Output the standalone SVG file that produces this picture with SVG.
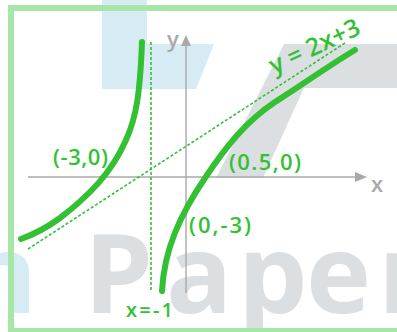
<svg xmlns="http://www.w3.org/2000/svg" width="397" height="332" viewBox="0 0 397 332">
  <style>
    .wm-blue { fill: #d6ebf3; }
    .wm-gray { fill: #dcdfe2; }
    .wm-text { font-family: "Open Sans", "Liberation Sans", sans-serif; font-weight: 700; font-size: 110px; }
    .frame { fill: none; stroke: #a6e6a6; stroke-width: 6; }
    .axis { stroke: #a9a9a9; stroke-width: 1.4; fill: none; }
    .arrow { fill: #a9a9a9; }
    .axlabel { font-family: "Open Sans", "Liberation Sans", sans-serif; font-size: 22px; fill: #a9a9a9; font-weight: 600; }
    .curve { fill: none; stroke: #33c133; stroke-width: 6; stroke-linecap: round; stroke-linejoin: round; }
    .asym { fill: none; stroke: #33c133; stroke-width: 1.6; stroke-dasharray: 3 2; }
    .lbl { font-family: "Open Sans", "Liberation Sans", sans-serif; font-weight: 600; fill: #33c133; }
  </style>
  <rect width="397" height="332" fill="#ffffff"/>
  <g id="watermark">
    <polygon class="wm-blue" points="102,0 147,0 147,44 214,44 196,89 102,89"/>
    <polygon class="wm-gray" points="284,44 397,44 397,88 304,88 263,178 216,178"/>
    <text class="wm-text wm-blue" x="-35" y="313">n</text>
    <text class="wm-text wm-gray" x="84 166 238 306 378" y="313">Paper</text>
  </g>
  <rect class="frame" x="11" y="8" width="392" height="323"/>
  <g id="axes">
    <line class="axis" x1="28" y1="177" x2="357" y2="177"/>
    <polygon class="arrow" points="355,172 367,177 355,182"/>
    <line class="axis" x1="186" y1="293" x2="186" y2="45"/>
    <polygon class="arrow" points="181,46 186,35 191,46"/>
    <text class="axlabel" x="371" y="192">x</text>
    <text class="axlabel" x="167" y="47">y</text>
  </g>
  <g id="connectors">
    <line class="asym" x1="151" y1="42" x2="151" y2="292"/>
    <line class="asym" x1="28" y1="249" x2="345" y2="43"/>
  </g>
  <g id="curve-left">
    <path class="curve" d="M142,42 C140,95 136,118 126,140 C112,172 90,195 60,218 C45,229 32,235 21,239"/>
  </g>
  <g id="curve-right">
    <path class="curve" d="M162,291 C164,250 180,215 205,178 C225,148 245,122 275,102 C300,86 330,65 355,50"/>
  </g>
  <g id="labels">
    <text class="lbl" x="53" y="165" font-size="22" textLength="55">(-3,0)</text>
    <text class="lbl" x="229" y="170" font-size="22" textLength="72">(0.5,0)</text>
    <text class="lbl" x="189" y="233" font-size="22" textLength="62">(0,-3)</text>
    <text class="lbl" x="126" y="317" font-size="20" textLength="47">x=-1</text>
    <text class="lbl" x="318" y="54" font-size="25" text-anchor="middle" transform="rotate(-25 318 54)">y = 2x+3</text>
  </g>
</svg>
